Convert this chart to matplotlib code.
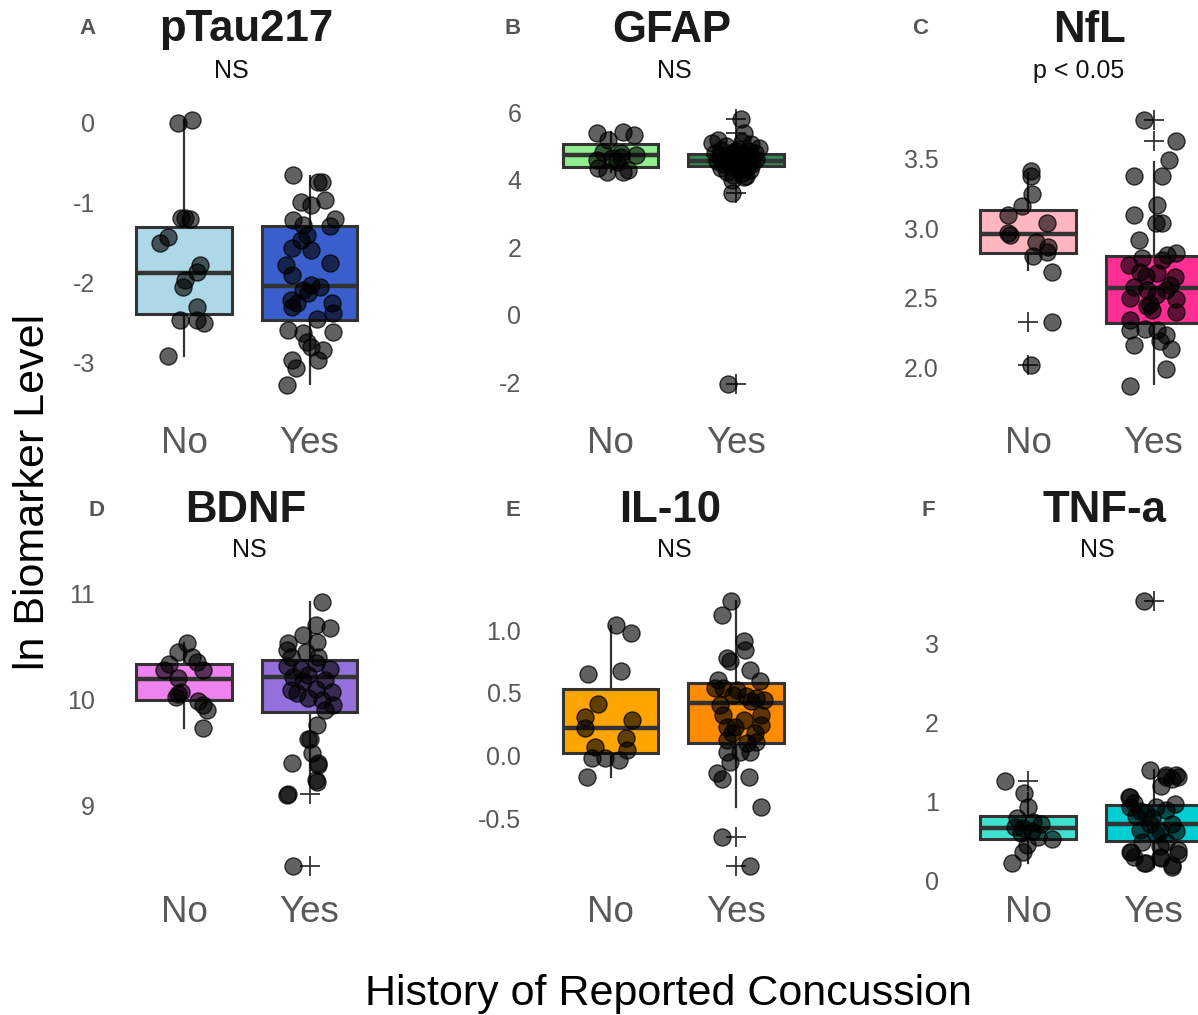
import numpy as np
import matplotlib
matplotlib.use("Agg")
import matplotlib.pyplot as plt

plt.rcParams["font.family"] = ["Liberation Sans", "DejaVu Sans"]
plt.rcParams["axes.unicode_minus"] = False

groups = ["No", "Yes"]

# ---- pTau217 ----
ptau_no = [-0.01, 0.03, -1.20, -1.21, -1.19, -1.43, -1.50, -1.78, -1.87, -1.97,
           -2.05, -2.31, -2.46, -2.47, -2.50, -2.92]
ptau_no_jit = [-0.05, 0.06, -0.02, 0.05, 0.01, -0.13, -0.19, 0.13, 0.10, 0.01,
               -0.01, 0.10, -0.03, 0.10, 0.16, -0.13]
ptau_yes = [-0.66, -0.74, -0.74, -0.99, -0.97, -1.03, -1.22, -1.21, -1.28, -1.29,
            -1.41, -1.47, -1.57, -1.59, -1.76, -1.78, -1.91, -2.03, -2.05, -2.09,
            -2.22, -2.30, -2.26, -2.38, -2.45, -2.59, -2.63, -2.61, -2.74, -2.80,
            -2.84, -2.97, -2.97, -3.07, -3.28, -2.13, -2.26]
ptau_yes_jit = [-0.13, 0.07, 0.10, -0.07, 0.12, 0.01, -0.13, 0.20, -0.05, 0.16,
                -0.02, -0.07, -0.14, 0.01, 0.16, -0.19, -0.14, 0.01, 0.08, -0.05,
                -0.15, -0.14, 0.18, 0.19, 0.06, -0.17, -0.05, 0.19, -0.02, 0.01,
                0.11, 0.07, -0.14, -0.11, -0.18, -0.01, -0.10]
# box stats: whisker low, q1, median, q3, whisker high
ptau_box_no = [-2.92, -2.39, -1.88, -1.31, 0.03]
ptau_box_yes = [-3.27, -2.47, -2.04, -1.29, -0.67]
ptau_out_no = []
ptau_out_yes = []

# ---- GFAP ----
gfap_no = [5.37, 5.42, 5.32, 5.18, 4.83, 4.78, 4.73, 4.58, 4.53, 4.34,
           4.24, 4.24, 4.29, 4.63, 4.68]
gfap_no_jit = [-0.11, 0.10, 0.19, -0.02, -0.06, 0.08, 0.20, -0.11, 0.05, -0.10,
               -0.03, 0.10, 0.14, 0.01, 0.08]
gfap_yes = [5.79, 5.37, 3.60, -2.06, 5.18, 5.08, 3.99, 4.09,
            5.12, 5.05, 5.00, 4.95, 4.92, 4.88, 4.85, 4.82, 4.80, 4.78,
            4.75, 4.72, 4.70, 4.68, 4.66, 4.64, 4.62, 4.60, 4.58, 4.56,
            4.55, 4.53, 4.51, 4.49, 4.47, 4.45, 4.43, 4.40, 4.38, 4.35,
            4.32, 4.28, 4.24, 4.20, 4.15, 4.10, 4.85, 4.60, 4.50]
gfap_yes_jit = [0.04, 0.06, -0.03, -0.06, -0.14, -0.19, -0.03, 0.06,
                0.05, 0.12, -0.08, 0.18, 0.02, -0.12, 0.10, -0.02, 0.15, -0.17,
                0.05, -0.06, 0.11, -0.13, 0.02, 0.08, -0.09, 0.16, -0.03, 0.04,
                -0.15, 0.10, -0.06, 0.01, 0.13, -0.10, 0.06, -0.04, 0.09, -0.12,
                0.03, 0.11, -0.07, 0.05, -0.02, 0.08, 0.00, 0.00, -0.01]
gfap_box_no = [4.24, 4.39, 4.73, 5.06, 5.42]
gfap_box_yes = [3.95, 4.41, 4.56, 4.76, 5.20]
gfap_out_no = []
gfap_out_yes = [5.79, 5.37, 3.60, -2.06]

# ---- NfL ----
nfl_no = [3.41, 3.38, 3.25, 3.16, 3.10, 3.04, 2.97, 2.95, 2.90, 2.87,
          2.83, 2.80, 2.69, 2.33, 2.02]
nfl_no_jit = [0.02, 0.02, 0.03, -0.05, -0.16, 0.15, -0.16, -0.14, 0.06, 0.16,
              0.15, 0.04, 0.19, 0.19, 0.02]
nfl_yes = [3.78, 3.63, 3.49, 3.38, 3.38, 3.17, 3.10, 3.04, 3.04, 2.92,
           2.82, 2.79, 2.77, 2.74, 2.69, 2.68, 2.65, 2.58, 2.59, 2.56,
           2.50, 2.52, 2.49, 2.44, 2.41, 2.40, 2.34, 2.28, 2.27, 2.27,
           2.23, 2.19, 2.13, 2.16, 1.99, 1.87, 2.66, 2.56, 2.46, 2.81]
nfl_yes_jit = [-0.08, 0.18, 0.12, -0.16, 0.07, 0.03, -0.16, 0.02, 0.07, -0.12,
               0.18, -0.09, 0.07, -0.20, -0.11, 0.03, 0.17, -0.16, 0.13, -0.05,
               -0.19, 0.02, 0.18, -0.05, -0.01, 0.18, -0.19, -0.07, 0.03, -0.19,
               0.10, 0.05, 0.14, -0.16, 0.10, -0.19, -0.06, 0.10, -0.03, 0.11]
nfl_box_no = [2.70, 2.82, 2.96, 3.13, 3.40]
nfl_box_yes = [1.88, 2.32, 2.57, 2.80, 3.48]
nfl_out_no = [2.33, 2.02]
nfl_out_yes = [3.78, 3.63]

# ---- BDNF ----
bdnf_no = [10.53, 10.45, 10.33, 10.40, 10.35, 10.28, 10.28, 10.20, 10.07, 10.02,
           9.98, 9.95, 9.90, 9.73, 10.05]
bdnf_no_jit = [0.02, -0.05, -0.12, 0.06, 0.10, -0.16, 0.15, -0.05, -0.02, -0.06,
               0.11, 0.15, 0.18, 0.15, -0.05]
bdnf_yes = [10.92, 10.70, 10.67, 10.61, 10.54, 10.53, 10.47, 10.45, 10.40, 10.40,
            10.31, 10.29, 10.29, 10.34, 10.21, 10.23, 10.09, 10.06, 10.07, 10.10,
            10.01, 9.99, 9.95, 9.90, 9.76, 9.63, 9.63, 9.49, 9.40, 9.40,
            9.24, 9.11, 9.10, 8.43, 9.38, 9.22, 10.18, 10.17]
bdnf_yes_jit = [0.10, 0.05, 0.16, -0.05, 0.06, -0.17, -0.18, -0.03, 0.07, -0.15,
                -0.18, -0.07, 0.16, 0.05, -0.13, -0.01, -0.15, -0.10, 0.18, 0.05,
                -0.01, 0.10, 0.19, 0.12, 0.06, -0.01, 0.00, 0.02, 0.07, -0.14,
                0.05, -0.17, -0.18, -0.13, 0.07, 0.06, 0.12, -0.05]
bdnf_box_no = [9.73, 9.99, 10.19, 10.33, 10.53]
bdnf_box_yes = [9.22, 9.88, 10.21, 10.37, 10.92]
bdnf_out_no = []
bdnf_out_yes = [9.11, 8.43]

# ---- IL-10 ----
il10_no = [1.04, 0.98, 0.65, 0.67, 0.41, 0.31, 0.28, 0.22, 0.14, 0.07,
           0.04, -0.02, -0.02, -0.04, -0.17]
il10_no_jit = [0.04, 0.16, -0.18, 0.08, -0.10, -0.20, 0.17, -0.20, 0.12, -0.12,
               0.13, -0.15, -0.04, 0.07, -0.19]
il10_yes = [1.23, 1.12, 0.91, 0.84, 0.78, 0.75, 0.68, 0.60, 0.59, 0.54,
            0.54, 0.48, 0.47, 0.46, 0.44, 0.40, 0.43, 0.32, 0.32, 0.23,
            0.23, 0.24, 0.18, 0.18, 0.12, 0.10, 0.11, 0.03, 0.03, 0.03,
            -0.05, -0.14, -0.19, -0.17, -0.41, -0.65, -0.88, 0.52, 0.28]
il10_yes_jit = [-0.04, -0.11, 0.06, 0.07, -0.07, -0.05, 0.11, -0.14, 0.19, -0.10,
                -0.17, -0.02, 0.08, 0.16, 0.22, -0.13, 0.12, -0.10, 0.20, -0.07,
                -0.01, 0.20, -0.03, 0.15, -0.07, 0.09, 0.16, -0.07, 0.03, 0.11,
                -0.05, -0.15, -0.11, 0.10, 0.20, -0.11, 0.11, 0.01, 0.06]
il10_box_no = [-0.17, 0.02, 0.22, 0.53, 1.03]
il10_box_yes = [-0.41, 0.10, 0.42, 0.58, 1.23]
il10_out_no = []
il10_out_yes = [-0.65, -0.88]

# ---- TNF-a ----
tnf_no = [1.26, 1.11, 0.93, 0.74, 0.68, 0.66, 0.53, 0.55, 0.45, 0.36,
          0.22, 0.60, 0.63, 0.72, 0.79]
tnf_no_jit = [-0.18, -0.03, 0.00, 0.04, -0.10, -0.04, 0.19, 0.08, -0.01, -0.04,
              -0.13, -0.06, 0.03, 0.10, -0.09]
tnf_yes = [3.54, 1.40, 1.33, 1.31, 1.29, 1.19, 1.06, 0.97, 0.93, 0.93,
           0.89, 0.81, 0.79, 0.72, 0.64, 0.62, 0.62, 0.49, 0.49, 0.36,
           0.34, 0.22, 0.28, 0.17, 0.30, 1.06, 0.98, 0.36, 0.22, 0.19,
           0.30, 0.38, 1.31, 1.33, 0.72, 0.59, 0.85, 0.88, 0.43]
tnf_yes_jit = [-0.08, -0.03, 0.10, 0.19, 0.15, 0.06, -0.20, 0.17, -0.19, 0.02,
               0.10, -0.14, -0.01, 0.15, -0.11, 0.05, 0.18, -0.09, 0.10, -0.18,
               0.19, -0.06, 0.06, 0.15, -0.16, -0.19, -0.16, -0.19, -0.08, 0.15,
               0.05, 0.19, 0.10, 0.18, -0.03, 0.02, -0.06, -0.11, 0.05]
tnf_box_no = [0.22, 0.53, 0.67, 0.82, 1.11]
tnf_box_yes = [0.17, 0.50, 0.72, 0.95, 1.40]
tnf_out_no = [1.26]
tnf_out_yes = [3.54]

W, H = 1198, 1015
fig = plt.figure(figsize=(W / 100, H / 100), dpi=100)

# panel layout in pixels: x left, x right, y top, y bottom
panels = [
    dict(title="pTau217", sub="NS", letter="A", box=(108.7, 384.8, 100, 405), ylim=(-3.526, 0.277),
         yticks=[0, -1, -2, -3], fmt="{:.0f}", colors=("#ADD8E6", "#3A5FCD"),
         data=(ptau_no, ptau_no_jit, ptau_yes, ptau_yes_jit, ptau_box_no, ptau_box_yes, ptau_out_no, ptau_out_yes),
         tpos=(246, 30), spos=(231, 71), lpos=(88, 28), pad=15),
    dict(title="GFAP", sub="NS", letter="B", box=(535.2, 811.3, 100, 405), ylim=(-2.676, 6.361),
         yticks=[6, 4, 2, 0, -2], fmt="{:.0f}", colors=("#90EE90", "#2E8B57"),
         data=(gfap_no, gfap_no_jit, gfap_yes, gfap_yes_jit, gfap_box_no, gfap_box_yes, gfap_out_no, gfap_out_yes),
         tpos=(672, 30), spos=(674, 71), lpos=(513, 28), pad=15),
    dict(title="NfL", sub="p < 0.05", letter="C", box=(952.7, 1229.0, 100, 405), ylim=(1.730, 3.924),
         yticks=[3.5, 3.0, 2.5, 2.0], fmt="{:.1f}", colors=("#FFB6C1", "#FF2E93"),
         data=(nfl_no, nfl_no_jit, nfl_yes, nfl_yes_jit, nfl_box_no, nfl_box_yes, nfl_out_no, nfl_out_yes),
         tpos=(1090, 30), spos=(1079, 71), lpos=(920, 28), pad=15),
    dict(title="BDNF", sub="NS", letter="D", box=(108.7, 384.8, 575, 885), ylim=(8.248, 11.173),
         yticks=[11, 10, 9], fmt="{:.0f}", colors=("#EE82EE", "#9370DB"),
         data=(bdnf_no, bdnf_no_jit, bdnf_yes, bdnf_yes_jit, bdnf_box_no, bdnf_box_yes, bdnf_out_no, bdnf_out_yes),
         tpos=(246, 510), spos=(249, 550), lpos=(97, 510), pad=7),
    dict(title="IL-10", sub="NS", letter="E", box=(535.2, 811.3, 575, 885), ylim=(-1.034, 1.439),
         yticks=[1.0, 0.5, 0.0, -0.5], fmt="{:.1f}", colors=("#FFA500", "#FF8C00"),
         data=(il10_no, il10_no_jit, il10_yes, il10_yes_jit, il10_box_no, il10_box_yes, il10_out_no, il10_out_yes),
         tpos=(670, 510), spos=(674, 550), lpos=(513, 510), pad=7),
    dict(title="TNF-a", sub="NS", letter="F", box=(952.7, 1229.0, 575, 885), ylim=(-0.058, 3.867),
         yticks=[3, 2, 1, 0], fmt="{:.0f}", colors=("#40E0D0", "#00CED1"),
         data=(tnf_no, tnf_no_jit, tnf_yes, tnf_yes_jit, tnf_box_no, tnf_box_yes, tnf_out_no, tnf_out_yes),
         tpos=(1104, 510), spos=(1097, 550), lpos=(928, 510), pad=7),
]

edge = "#333333"
for p in panels:
    x0, x1, yt, yb = p["box"]
    ax = fig.add_axes([x0 / W, 1 - yb / H, (x1 - x0) / W, (yb - yt) / H])
    no_v, no_j, yes_v, yes_j, bx_no, bx_yes, out_no, out_yes = p["data"]

    stats = []
    for b, out in [(bx_no, out_no), (bx_yes, out_yes)]:
        stats.append(dict(whislo=b[0], q1=b[1], med=b[2], q3=b[3], whishi=b[4], fliers=out))
    bp = ax.bxp(stats, positions=[1, 2], widths=0.76, patch_artist=True, showcaps=False,
                boxprops=dict(edgecolor=edge, linewidth=2.2),
                medianprops=dict(color=edge, linewidth=3.2),
                whiskerprops=dict(color=edge, linewidth=1.6),
                flierprops=dict(marker="+", markersize=15, markeredgewidth=1.3,
                                markeredgecolor=edge, linestyle="none"))
    for patch, c in zip(bp["boxes"], p["colors"]):
        patch.set_facecolor(c)

    for i, (vals, jit) in enumerate([(no_v, no_j), (yes_v, yes_j)]):
        xs = i + 1 + np.array(jit)
        ax.scatter(xs, vals, s=150, facecolor=(0, 0, 0, 0.62), edgecolor=(0, 0, 0, 0.75),
                   linewidth=1.0, zorder=5)

    ax.set_xlim(0.4, 2.6)
    ax.set_ylim(*p["ylim"])
    ax.set_xticks([1, 2])
    ax.set_xticklabels(groups)
    ax.set_yticks(p["yticks"])
    ax.set_yticklabels([p["fmt"].format(t) for t in p["yticks"]])
    ax.tick_params(axis="x", length=0, labelsize=26.5, labelcolor="#595959", pad=p["pad"])
    ax.tick_params(axis="y", length=0, labelsize=18, labelcolor="#595959", pad=10)
    for s in ax.spines.values():
        s.set_visible(False)
    ax.patch.set_alpha(0)

    fig.text(p["tpos"][0] / W, 1 - p["tpos"][1] / H, p["title"], fontsize=31.5, fontweight="bold",
             color="#1a1a1a", ha="center", va="center")
    fig.text(p["spos"][0] / W, 1 - p["spos"][1] / H, p["sub"], fontsize=18,
             color="#111111", ha="center", va="center")
    fig.text(p["lpos"][0] / W, 1 - p["lpos"][1] / H, p["letter"], fontsize=16, fontweight="bold",
             color="#555555", ha="center", va="center")

fig.text(33 / W, 1 - 492 / H, "ln Biomarker Level", fontsize=31, rotation=90,
         ha="center", va="center", color="black")
fig.text(668 / W, 1 - 994 / H, "History of Reported Concussion", fontsize=31,
         ha="center", va="center", color="black")

fig.savefig("out.png", dpi=100, facecolor="white")
